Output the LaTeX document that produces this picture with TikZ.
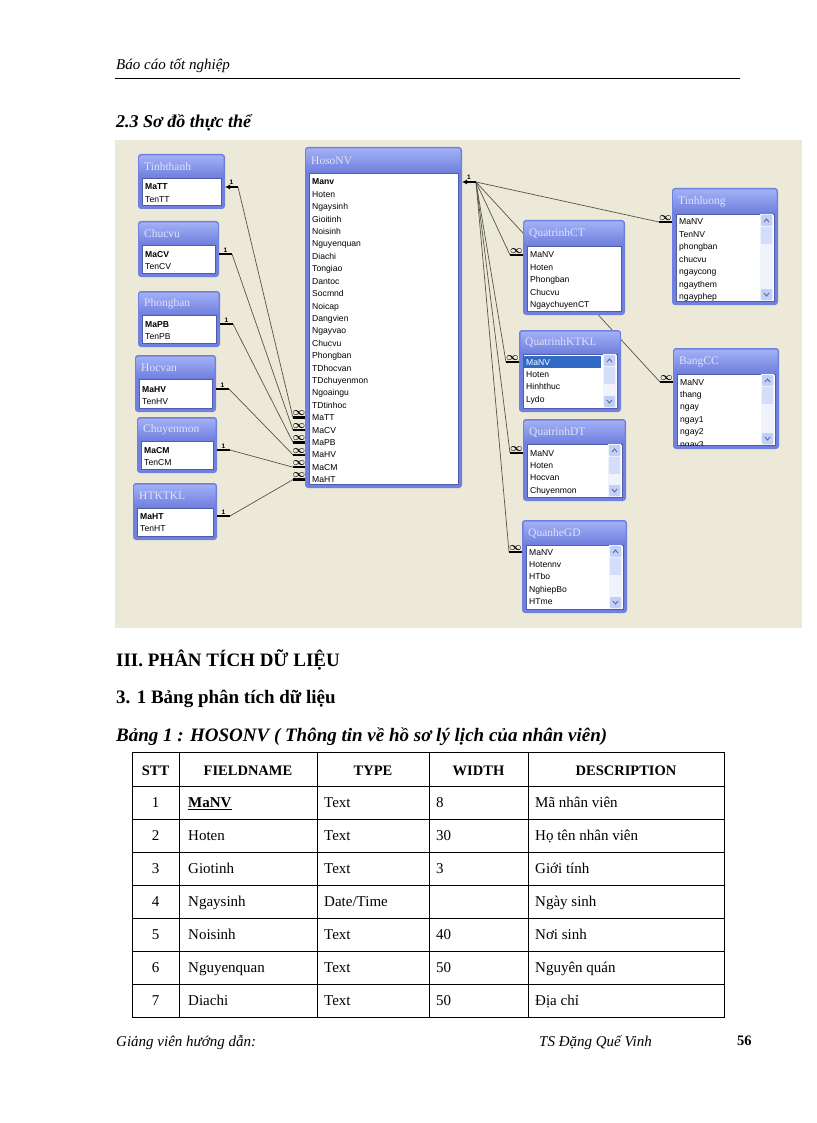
\documentclass[tikz,border=0pt]{standalone}
\usepackage{fontspec}
\setmainfont{Liberation Serif}
\newfontfamily\erfont{Liberation Sans}
\usetikzlibrary{arrows.meta}
\definecolor{erbeige}{RGB}{236,233,216}
\definecolor{erblue}{RGB}{112,128,222}
\definecolor{erlight}{RGB}{162,176,246}
\definecolor{erdark}{RGB}{80,92,170}
\definecolor{ertext}{RGB}{222,228,250}
\definecolor{erline}{RGB}{85,85,75}
\definecolor{scrolltrk}{RGB}{240,242,252}
\definecolor{scrollbtn}{RGB}{194,208,248}
\definecolor{selblue}{RGB}{49,106,197}
\pgfdeclarelayer{bg}
\pgfdeclarelayer{lines}
\pgfsetlayers{bg,lines,main}

\tikzset{
  erframe/.style={fill=erblue, rounded corners=3pt},
  ertitle/.style={anchor=west, inner sep=0pt, text=ertext, font=\fontsize{11.5}{12}\selectfont},
  erfield/.style={anchor=base west, inner sep=0pt, font=\erfont\fontsize{8.6}{10}\selectfont},
  relline/.style={draw=erline, line width=0.7pt},
  relbar/.style={line width=2.4pt},
  onelbl/.style={above=0.8pt, inner sep=0pt, font=\erfont\bfseries\fontsize{6.5}{7}\selectfont},
  manylbl/.style={above=0.6pt, inner sep=0pt, font=\boldmath\fontsize{10.5}{10}\selectfont},
  cell/.style={anchor=base west, inner sep=0pt, font=\fontsize{15}{17}\selectfont},
  hcell/.style={anchor=base, inner sep=0pt, font=\bfseries\fontsize{14.5}{17}\selectfont}
}

\def\erstep{12.45}
% #1 name, #2 x1, #3 y1, #4 x2, #5 y2, #6 title bottom, #7 title, #8 first row, #9 fields
\newcommand\erbox[9]{%
  \fill[erframe] (#2,#3) rectangle (#4,#5);
  \shade[top color=erlight, bottom color=erblue, rounded corners=2pt] (#2+1.5,#3+1.5) rectangle (#4-1.5,#6);
  \node[ertitle] (#1) at (#2+6,{(#3+#6)/2+1}) {#7};
  \fill[white, draw=erdark, line width=0.5pt] (#2+4,#6+1) rectangle (#4-4,#5-4);
  \begin{scope}
    \clip (#2+4,#6+1) rectangle (#4-4,#5-4);
    \foreach \f [count=\k from 0] in {#9} {
      \node[erfield] (#1-\k) at (#2+7,#8+3+\erstep*\k) {\f};
      \coordinate (#1-\k-w) at (#2,#8+\erstep*\k);
      \coordinate (#1-\k-e) at (#4,#8+\erstep*\k);
    }
  \end{scope}
}
% #1 x2, #2 top, #3 bottom
\newcommand\erscroll[3]{%
  \fill[scrolltrk] (#1-18,#2) rectangle (#1-5,#3);
  \fill[scrollbtn, rounded corners=1pt] (#1-17,#2+1) rectangle (#1-6,#2+12);
  \fill[scrollbtn!70] (#1-17,#2+13) rectangle (#1-6,#2+30);
  \fill[scrollbtn, rounded corners=1pt] (#1-17,#3-12) rectangle (#1-6,#3-1);
  \draw[erdark, line width=0.8pt] (#1-14,#2+8) -- (#1-11.5,#2+5) -- (#1-9,#2+8);
  \draw[erdark, line width=0.8pt] (#1-14,#3-8) -- (#1-11.5,#3-5) -- (#1-9,#3-8);
}

\begin{document}
\begin{tikzpicture}[x=1pt, y=-1pt]
  \useasboundingbox (0,0) rectangle (816,1123);

  %page and diagram background
  \begin{pgfonlayer}{bg}
    \fill[white] (0,0) rectangle (816,1123);
    \fill[erbeige] (115,140) rectangle (802,628);
  \end{pgfonlayer}

  %header
  \node[anchor=base west, inner sep=0pt, font=\itshape\fontsize{15}{16}\selectfont] (head) at (116,70) {Báo cáo tốt nghiệp};
  \draw[line width=0.7pt] (115,78) -- (740,78);
  \node[anchor=base west, inner sep=0pt, font=\bfseries\itshape\fontsize{18}{19}\selectfont] (sec23) at (116,128) {2.3 Sơ đồ thực thể};

  %left tables
  \erbox{TT}{138}{154}{225}{209}{177}{Tinhthanh}{187}{\textbf{MaTT},TenTT}
  \erbox{CV}{138}{221}{219}{277}{244}{Chucvu}{254}{\textbf{MaCV},TenCV}
  \erbox{PB}{138}{291}{220}{347}{314}{Phongban}{324}{\textbf{MaPB},TenPB}
  \erbox{HV}{135}{355}{216}{412}{378}{Hocvan}{389}{\textbf{MaHV},TenHV}
  \erbox{CM}{137}{417}{217}{473}{440}{Chuyenmon}{450}{\textbf{MaCM},TenCM}
  \erbox{HT}{133}{483}{217}{540}{507}{HTKTKL}{516}{\textbf{MaHT},TenHT}

  %main table
  \def\erstep{12.4}
  \erbox{NV}{305}{147}{462}{488}{172}{HosoNV}{182}{\textbf{Manv},Hoten,Ngaysinh,Gioitinh,Noisinh,Nguyenquan,Diachi,Tongiao,Dantoc,Socmnd,Noicap,Dangvien,Ngayvao,Chucvu,Phongban,TDhocvan,TDchuyenmon,Ngoaingu,TDtinhoc,MaTT,MaCV,MaPB,MaHV,MaCM,MaHT}
  \def\erstep{12.45}

  %right tables
  \erbox{TL}{672}{188}{778}{305}{213}{Tinhluong}{222}{MaNV,TenNV,phongban,chucvu,ngaycong,ngaythem,ngayphep}
  \erscroll{778}{214}{301}
  \erbox{CT}{523}{220}{625}{315}{245}{QuatrinhCT}{255}{MaNV,Hoten,Phongban,Chucvu,NgaychuyenCT}
  \erbox{KT}{519}{330}{621}{412}{353}{QuatrinhKTKL}{362}{MaNV,Hoten,Hinhthuc,Lydo}
  \fill[selblue] (523,356) rectangle (601,368);
  \node[erfield, text=white] (KTsel) at (526,365) {MaNV};
  \erscroll{621}{354}{408}
  \erbox{DT}{523}{419}{626}{501}{443}{QuatrinhDT}{453}{MaNV,Hoten,Hocvan,Chuyenmon}
  \erscroll{626}{444}{497}
  \erbox{GD}{522}{520}{627}{613}{544}{QuanheGD}{552}{MaNV,Hotennv,HTbo,NghiepBo,HTme}
  \erscroll{627}{545}{609}
  \erbox{CC}{673}{348}{779}{449}{373}{BangCC}{382}{MaNV,thang,ngay,ngay1,ngay2,ngay3}
  \erscroll{779}{374}{445}

  %relationships
  \begin{pgfonlayer}{lines}
    \foreach \b/\k in {TT/19,CV/20,PB/21,HV/22,CM/23,HT/24}
      \draw[relline] ([xshift=13pt]\b-0-e) -- ([xshift=-12pt]NV-\k-w);
    \foreach \b in {TL,CT,KT,DT,GD,CC}
      \draw[relline] ([xshift=14pt]NV-0-e) -- ([xshift=-13pt]\b-0-w);
  \end{pgfonlayer}
  \draw[relbar, {Latex[length=5pt,width=5pt]}-] (TT-0-e) -- ([xshift=13pt]TT-0-e) node[midway, onelbl] {1};
  \foreach \b in {CV,PB,HV,CM,HT}
    \draw[relbar] (\b-0-e) -- ([xshift=13pt]\b-0-e) node[midway, onelbl] {1};
  \foreach \k in {19,...,24}
    \draw[relbar] (NV-\k-w) -- ([xshift=-12pt]NV-\k-w) node[midway, manylbl] {$\infty$};
  \draw[relbar, {Latex[length=5pt,width=5pt]}-] (NV-0-e) -- ([xshift=14pt]NV-0-e) node[midway, onelbl] {1};
  \foreach \b in {TL,CT,KT,DT,GD,CC}
    \draw[relbar] (\b-0-w) -- ([xshift=-13pt]\b-0-w) node[midway, manylbl] {$\infty$};

  %section III
  \node[anchor=base west, inner sep=0pt, font=\bfseries\fontsize{19}{21}\selectfont] (sec3) at (116,666) {III. PHÂN TÍCH DỮ LIỆU};
  \node[anchor=base west, inner sep=0pt, font=\bfseries\fontsize{19}{21}\selectfont] (sec31) at (116,703) {3. 1 Bảng phân tích dữ liệu};
  \node[anchor=base west, inner sep=0pt, font=\bfseries\itshape\fontsize{19}{21}\selectfont] (tab1) at (116,741) {Bảng 1 : HOSONV ( Thông tin về hồ sơ lý lịch của nhân viên)};

  %table
  \draw[line width=0.8pt] (132,752) rectangle (724,1017);
  \foreach \x in {179,317,429,528}
    \draw[line width=0.8pt] (\x,752) -- (\x,1017);
  \foreach \y in {786,819,852,885,918,951,984}
    \draw[line width=0.8pt] (132,\y) -- (724,\y);
  \foreach \hd/\x [count=\c] in {STT/155.5,FIELDNAME/248,TYPE/373,WIDTH/478.5,DESCRIPTION/626}
    \node[hcell] (h\c) at (\x,775) {\hd};
  \foreach \nr/\fn/\ty/\wdt/\ds [count=\rw] in {
      1/\underline{\textbf{MaNV}}/Text/8/Mã nhân viên,
      2/Hoten/Text/30/Họ tên nhân viên,
      3/Giotinh/Text/3/Giới  tính,
      4/Ngaysinh/{Date/Time}/{}/Ngày sinh,
      5/Noisinh/Text/40/Nơi sinh,
      6/Nguyenquan/Text/50/Nguyên quán,
      7/Diachi/Text/50/Địa chỉ} {
    \node[cell, anchor=base] (r\rw-1) at (155.5,774.5+33*\rw) {\nr};
    \node[cell] (r\rw-2) at (188,774.5+33*\rw) {\fn};
    \node[cell] (r\rw-3) at (324,774.5+33*\rw) {\ty};
    \node[cell] (r\rw-4) at (436,774.5+33*\rw) {\wdt};
    \node[cell] (r\rw-5) at (535,774.5+33*\rw) {\ds};
  }

  %footer
  \node[anchor=base west, inner sep=0pt, font=\itshape\fontsize{15}{16}\selectfont] (foot1) at (116,1046) {Giảng viên hướng dẫn:};
  \node[anchor=base west, inner sep=0pt, font=\itshape\fontsize{15}{16}\selectfont] (foot2) at (539,1046) {TS Đặng Quế Vinh};
  \node[anchor=base west, inner sep=0pt, font=\bfseries\fontsize{14.5}{16}\selectfont] (pageno) at (737,1045) {56};
\end{tikzpicture}
\end{document}
